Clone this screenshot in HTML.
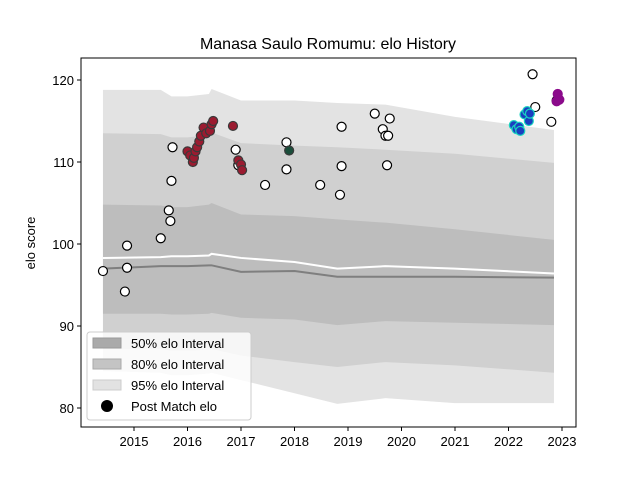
<!DOCTYPE html>
<html><head><meta charset="utf-8"><style>
body{margin:0;background:#fff}
svg{font-family:"Liberation Sans","DejaVu Sans",sans-serif}
</style></head><body>
<svg id="c" width="640" height="480" viewBox="0 0 640 480">
<rect width="640" height="480" fill="#fff"/>
<g id="plot"></g>
<rect x="81" y="58" width="495" height="369" fill="none" stroke="#000" stroke-width="1"/>
<g id="xt"></g>
<g id="yt"></g>
<text x="328" y="49" text-anchor="middle" font-size="16">Manasa Saulo Romumu: elo History</text>
<text transform="translate(35,243) rotate(-90)" text-anchor="middle" font-size="13">elo score</text>
<g>
<rect x="87" y="332" width="164" height="88" rx="3" fill="#fff" fill-opacity="0.8" stroke="#ccc"/>
<rect x="93" y="338" width="28" height="10" fill="#aaa" stroke="#999"/>
<text x="131" y="348" font-size="13">50% elo Interval</text>
<rect x="93" y="359" width="28" height="10" fill="#c4c4c4" stroke="#aaa"/>
<text x="131" y="369" font-size="13">80% elo Interval</text>
<rect x="93" y="380" width="28" height="10" fill="#e2e2e2" stroke="#ccc"/>
<text x="131" y="390" font-size="13">95% elo Interval</text>
<circle cx="107" cy="406" r="6" fill="#000"/>
<text x="131" y="411" font-size="13">Post Match elo</text>
</g>
</svg>
<script>
const bandYears=[2014.42,2015.5,2015.7,2016.0,2016.4,2016.45,2017.0,2018.0,2018.8,2019.7,2021.0,2022.85];
const b95hi=[118.8,118.8,118.0,118.0,118.3,118.9,117.5,117.5,117.2,117.0,115.5,113.9];
const b80hi=[113.5,113.4,113.0,113.0,113.3,113.6,112.3,112.0,111.8,111.5,111.0,109.9];
const b50hi=[104.8,104.7,104.5,104.5,104.8,105.0,103.6,103.4,103.0,102.6,101.8,100.5];
const b50lo=[91.5,91.5,91.4,91.4,91.5,91.6,91.0,90.8,90.1,90.6,90.4,90.1];
const b80lo=[87.2,87.2,87.0,87.0,87.1,87.2,86.4,85.6,85.0,85.6,85.2,84.3];
const b95lo=[84.5,84.3,84.0,84.0,84.2,84.3,83.4,81.8,80.5,81.2,80.6,80.6];
const medianLine=[98.3,98.4,98.5,98.5,98.6,98.8,98.3,97.8,97.0,97.3,97.0,96.4];
const meanLine=[97.0,97.3,97.3,97.3,97.4,97.4,96.6,96.7,96.0,96.0,96.0,95.9];
const whiteYears=[2014.42,2014.87,2014.87,2014.83,2015.5,2015.65,2015.68,2015.7,2015.72,2016.9,2016.95,2017.45,2017.85,2017.85,2018.48,2018.85,2018.88,2018.88,2019.5,2019.65,2019.7,2019.75,2019.78,2019.73,2022.45,2022.5,2022.8,2022.9];
const whiteElo=[96.7,99.8,97.1,94.2,100.7,104.1,102.8,107.7,111.8,111.5,109.6,107.2,112.4,109.1,107.2,106.0,114.3,109.5,115.9,114.0,113.2,113.2,115.3,109.6,120.7,116.7,114.9,117.5];
const redYears=[2016.0,2016.05,2016.1,2016.12,2016.15,2016.18,2016.22,2016.25,2016.3,2016.35,2016.42,2016.45,2016.48,2016.85,2016.95,2017.0,2017.02];
const redElo=[111.3,110.8,110.0,110.5,111.3,111.8,112.5,113.2,114.2,113.5,113.8,114.6,115.0,114.4,110.2,109.7,109.0];
const greenYears=[2017.9];
const greenElo=[111.4];
const blueYears=[2022.1,2022.15,2022.2,2022.22,2022.3,2022.35,2022.38,2022.4];
const blueElo=[114.5,114.0,114.3,113.8,115.8,116.2,115.0,115.9];
const purpleYears=[2022.9,2022.92,2022.95];
const purpleElo=[117.4,118.3,117.6];
const xTicks=[2015,2016,2017,2018,2019,2020,2021,2022,2023];
const yTicks=[80,90,100,110,120];

const NS='http://www.w3.org/2000/svg';
const X=y=>134+(y-2015)*53.5;
const Y=v=>80+(120-v)*8.2;
const plot=document.getElementById('plot');
function mk(tag,attrs,parent){const e=document.createElementNS(NS,tag);for(const k in attrs)e.setAttribute(k,attrs[k]);(parent||plot).appendChild(e);return e;}
function band(hi,lo,fill,name){
  let d='M'+bandYears.map((t,i)=>X(t)+','+Y(hi[i])).join('L');
  for(let i=bandYears.length-1;i>=0;i--)d+='L'+X(bandYears[i])+','+Y(lo[i]);
  const p=mk('path',{d:d+'Z',fill:fill});
  
  
}
band(b95hi,b95lo,'#e3e3e3','band-95');
band(b80hi,b80lo,'#d0d0d0','band-80');
band(b50hi,b50lo,'#bdbdbd','band-50');
function line(vals,color,name){
  const p=mk('polyline',{points:bandYears.map((t,i)=>X(t)+','+Y(vals[i])).join(' '),fill:'none',stroke:color,'stroke-width':2});
  
  
}
line(medianLine,'#ffffff','median-line');
line(meanLine,'#7f7f7f','mean-line');
function pts(xs,vs,fill,stroke,name){
  xs.forEach((t,i)=>{
    const c=mk('circle',{cx:X(t),cy:Y(vs[i]),r:4.5,fill:fill,stroke:stroke,'stroke-width':1.2});
    
    
  });
}
pts(whiteYears,whiteElo,'#ffffff','#000','post-match-point');
pts(redYears,redElo,'#9b1b30','#3a3a3a','post-match-point-red');
pts(greenYears,greenElo,'#1a4d3a','#3a3a3a','post-match-point-green');
pts(blueYears,blueElo,'#1a3fc0','#19d4c0','post-match-point-blue');
pts(purpleYears,purpleElo,'#8b0a8b','#8b0a8b','post-match-point-purple');
const xt=document.getElementById('xt'),yt=document.getElementById('yt');
xTicks.forEach(t=>{
  const l=mk('line',{x1:X(t),x2:X(t),y1:427,y2:431,stroke:'#000'},xt);
  
  
  const s=mk('text',{x:X(t),y:446,'text-anchor':'middle','font-size':13},xt);
  s.textContent=t;
  
  
});
yTicks.forEach(v=>{
  const l=mk('line',{x1:77,x2:81,y1:Y(v),y2:Y(v),stroke:'#000'},yt);
  
  
  const s=mk('text',{x:74,y:Y(v)+5,'text-anchor':'end','font-size':13},yt);
  s.textContent=v;
  
  
});
</script>
</body></html>
